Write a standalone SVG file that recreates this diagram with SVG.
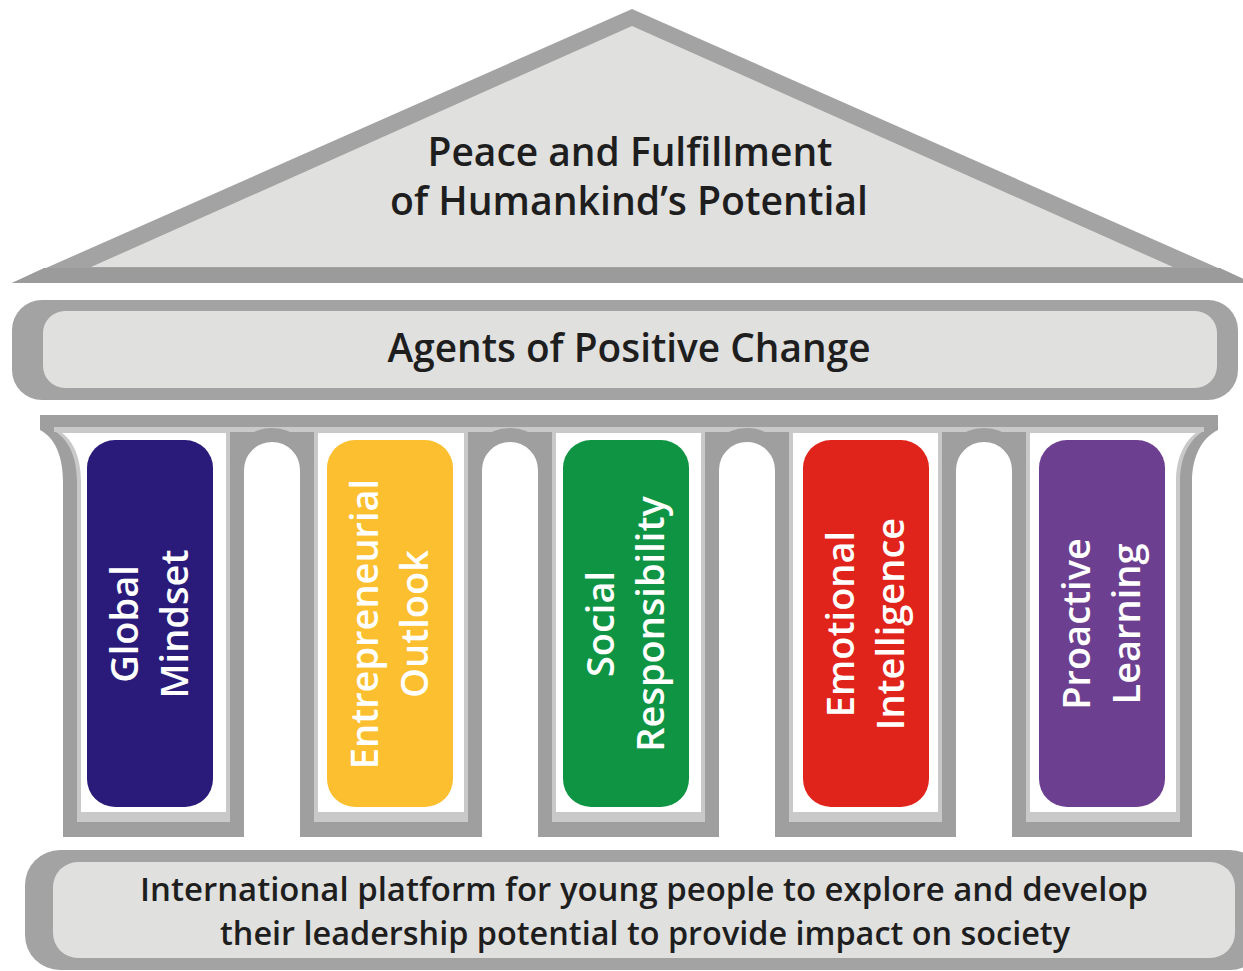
<svg xmlns="http://www.w3.org/2000/svg" width="1243" height="971" viewBox="0 0 1243 971">
  <style>
    .head { font-family: "Open Sans", Lato, "Liberation Sans", sans-serif; font-weight: 600; fill: #1e1e1e; text-anchor: middle; }
    .pill { font-family: "Open Sans", "Liberation Sans", sans-serif; font-weight: 600; fill: #ffffff; text-anchor: middle; font-size: 38px; }
    .dark { fill: #a3a3a3; }
    .light { fill: #e0e0df; }
    .rim { fill: #c9c9c9; }
    .hole { fill: #ffffff; }
    .arch { fill: #ffffff; stroke: #9f9f9f; stroke-width: 14; }
  </style>
  <rect width="1243" height="971" fill="#ffffff"/>

  <!-- Roof -->
  <g id="roof">
    <polygon class="dark" points="632,9 12,283 1252,283"/>
    <polygon fill="#9b9b9b" points="44,268 1220,268 1252,283 12,283"/>
    <polygon class="light" points="632,26 91,267 1173,267"/>
    <text class="head" font-size="39" x="630" y="166" textLength="405" lengthAdjust="spacingAndGlyphs">Peace and Fulfillment</text>
    <text class="head" font-size="39" x="629" y="215" textLength="478" lengthAdjust="spacingAndGlyphs">of Humankind’s Potential</text>
  </g>

  <!-- Entablature -->
  <g id="agents">
    <rect class="dark" x="12" y="300" width="1226" height="100" rx="30"/>
    <rect class="light" x="43" y="311" width="1174" height="77" rx="22"/>
    <text class="head" font-size="40" x="629" y="362" textLength="483" lengthAdjust="spacingAndGlyphs">Agents of Positive Change</text>
  </g>

  <!-- Colonnade frame -->
  <g id="colonnade">
    <path fill="#9f9f9f" d="M40,415 H1218 V430 C1202,438 1192,456 1192,482 V837 H63 V482 C63,456 55,438 40,430 Z"/>
    <rect class="rim" x="54" y="427" width="1150" height="5"/>
    <path class="rim" d="M56,432 C68,440 77,456 77,482 V822 H230 V432 Z"/>
    <path class="hole" d="M62,433 C73,441 81,457 81,482 V812 H226 V433 Z"/>
    <rect class="rim" x="314" y="432" width="154" height="390"/>
    <rect class="hole" x="318" y="433" width="146" height="379"/>
    <rect class="rim" x="552" y="432" width="153" height="390"/>
    <rect class="hole" x="556" y="433" width="145" height="379"/>
    <rect class="rim" x="789" y="432" width="153" height="390"/>
    <rect class="hole" x="793" y="433" width="145" height="379"/>
    <path class="rim" d="M1026,432 H1202 C1190,440 1180,456 1180,482 V822 H1026 Z"/>
    <path class="hole" d="M1030,433 H1196 C1185,441 1176,457 1176,482 V812 H1030 Z"/>
  </g>

  <!-- Arches between columns -->
  <g id="arches">
    <path class="arch" d="M237,837 V470 A35,35 0 0 1 307,470 V837"/>
    <path class="arch" d="M475,837 V470 A35,35 0 0 1 545,470 V837"/>
    <path class="arch" d="M712,837 V470 A35,35 0 0 1 782,470 V837"/>
    <path class="arch" d="M949,837 V470 A35,35 0 0 1 1019,470 V837"/>
  </g>

  <!-- Pillars -->
  <g id="global-mindset">
    <rect x="87" y="440" width="126" height="367" rx="28" fill="#2a1a79"/>
    <g transform="translate(150,624) rotate(-90)">
      <text class="pill" x="0" y="-12">Global</text>
      <text class="pill" x="0" y="38">Mindset</text>
    </g>
  </g>
  <g id="entrepreneurial-outlook">
    <rect x="327" y="440" width="126" height="367" rx="28" fill="#fbbf2f"/>
    <g transform="translate(390,624) rotate(-90)">
      <text class="pill" x="0" y="-12">Entrepreneurial</text>
      <text class="pill" x="0" y="38">Outlook</text>
    </g>
  </g>
  <g id="social-responsibility">
    <rect x="563" y="440" width="126" height="367" rx="28" fill="#0e9443"/>
    <g transform="translate(626,624) rotate(-90)">
      <text class="pill" x="0" y="-12">Social</text>
      <text class="pill" x="0" y="38">Responsibility</text>
    </g>
  </g>
  <g id="emotional-intelligence">
    <rect x="803" y="440" width="126" height="367" rx="28" fill="#e1241b"/>
    <g transform="translate(866,624) rotate(-90)">
      <text class="pill" x="0" y="-12">Emotional</text>
      <text class="pill" x="0" y="38">Intelligence</text>
    </g>
  </g>
  <g id="proactive-learning">
    <rect x="1039" y="440" width="126" height="367" rx="28" fill="#6d3f90"/>
    <g transform="translate(1102,624) rotate(-90)">
      <text class="pill" x="0" y="-12">Proactive</text>
      <text class="pill" x="0" y="38">Learning</text>
    </g>
  </g>

  <!-- Foundation -->
  <g id="foundation">
    <rect class="dark" x="25" y="850" width="1240" height="120" rx="35"/>
    <rect class="light" x="53" y="862" width="1182" height="96" rx="25"/>
    <text class="head" font-size="32" x="644" y="901" textLength="1008" lengthAdjust="spacingAndGlyphs">International platform for young people to explore and develop</text>
    <text class="head" font-size="32" x="645" y="945" textLength="850" lengthAdjust="spacingAndGlyphs">their leadership potential to provide impact on society</text>
  </g>
</svg>
